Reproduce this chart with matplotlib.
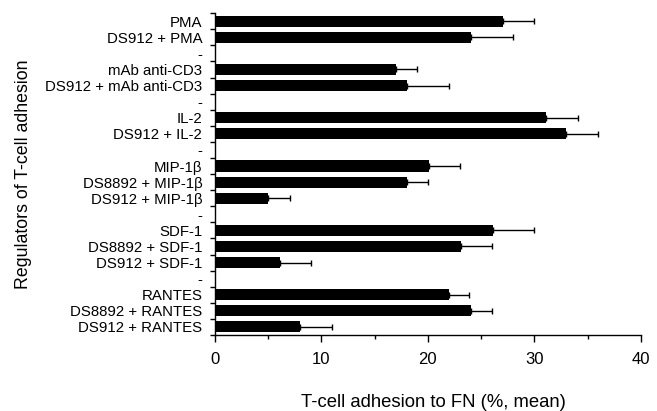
import numpy as np
import matplotlib
matplotlib.use('Agg')
import matplotlib.pyplot as plt

plt.rcParams['font.family'] = ['Liberation Sans', 'DejaVu Sans']

# rows top to bottom, "-" rows are empty separators
labels = ["PMA", "DS912 + PMA", "-",
          "mAb anti-CD3", "DS912 + mAb anti-CD3", "-",
          "IL-2", "DS912 + IL-2", "-",
          "MIP-1β", "DS8892 + MIP-1β", "DS912 + MIP-1β", "-",
          "SDF-1", "DS8892 + SDF-1", "DS912 + SDF-1", "-",
          "RANTES", "DS8892 + RANTES", "DS912 + RANTES"]
means = [27, 24, np.nan,
         17, 18, np.nan,
         31.1, 33, np.nan,
         20.1, 18, 5, np.nan,
         26.1, 23.1, 6.1, np.nan,
         22, 24, 8]
upper = [30, 28, np.nan,
         19, 22, np.nan,
         34.1, 36, np.nan,
         23, 20, 7.1, np.nan,
         30, 26, 9, np.nan,
         23.9, 26, 11]

means = np.array(means)
upper = np.array(upper)
ypos = np.arange(len(labels))
err = upper - means

fig = plt.figure(figsize=(6.57, 4.11), dpi=100)
ax = fig.add_axes([0.327, 0.185, 0.6487, 0.783])

ax.barh(ypos, means, height=0.69, color='black')
ax.errorbar(means, ypos, xerr=[np.zeros_like(err), err], fmt='none',
            ecolor='black', elinewidth=1, capsize=2, capthick=1)

ax.set_xlim(0, 40)
ax.set_ylim(len(labels) - 0.5, -0.5)

ax.set_yticks(ypos)
ax.set_yticklabels(labels, fontsize=10.8)
ax.set_yticks(np.arange(len(labels) + 1) - 0.5, minor=True)
ax.tick_params(axis='y', which='major', length=0, pad=9)
ax.tick_params(axis='y', which='minor', length=3.5, width=1)

ax.set_xticks([0, 10, 20, 30, 40])
ax.set_xticks([5, 15, 25, 35], minor=True)
ax.tick_params(axis='x', which='major', length=5, width=1, labelsize=12, pad=7)
ax.tick_params(axis='x', which='minor', length=3, width=1)

for s in ['top', 'right']:
    ax.spines[s].set_visible(False)
for s in ['left', 'bottom']:
    ax.spines[s].set_linewidth(1)

ax.set_xlabel('T-cell adhesion to FN (%, mean)', fontsize=13.3)
ax.xaxis.set_label_coords(0.512, -0.21)
ax.xaxis.label.set_va('center')
ax.set_ylabel('Regulators of T-cell adhesion', fontsize=12.8)
ax.yaxis.set_label_coords(-0.448, 0.5)
ax.yaxis.label.set_va('center')

fig.savefig('out.png', dpi=100)
